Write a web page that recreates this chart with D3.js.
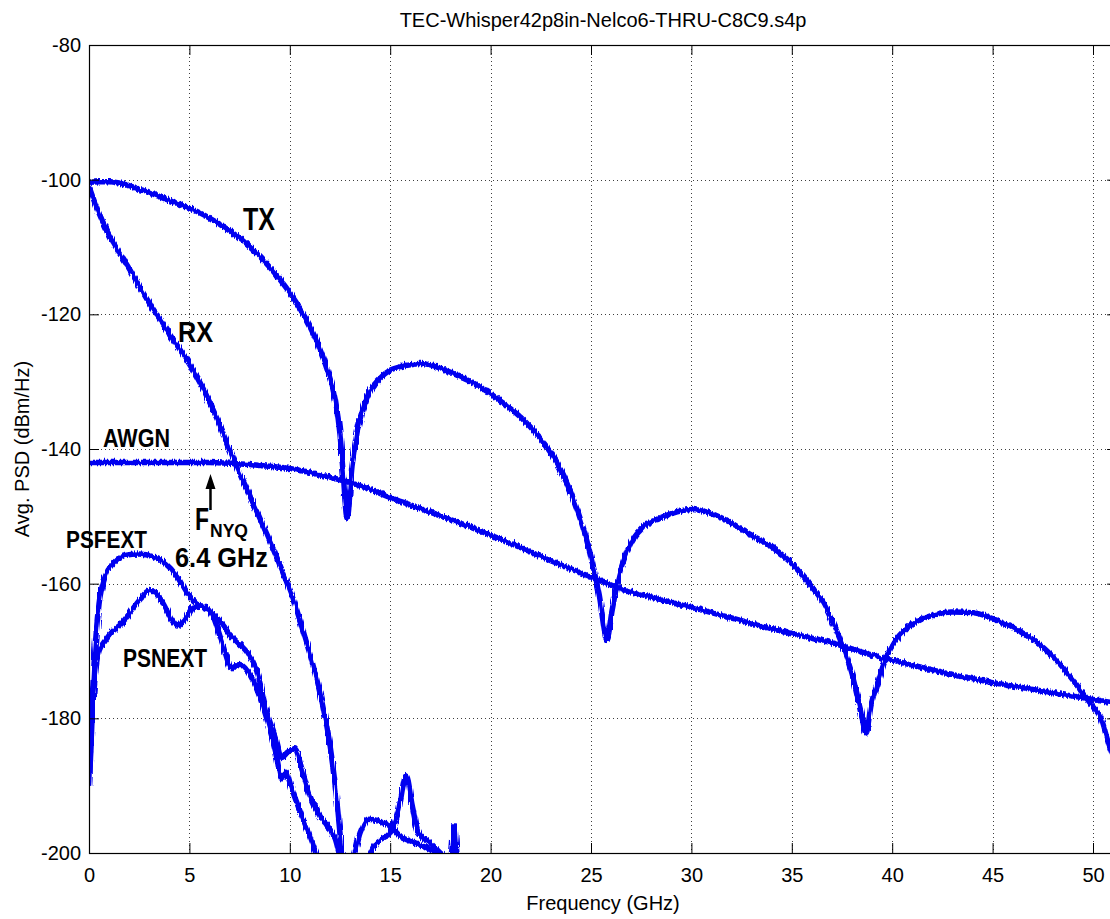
<!DOCTYPE html>
<html>
<head>
<meta charset="utf-8">
<script src="https://cdn.jsdelivr.net/npm/d3@7"></script>
<style>
  html, body { margin: 0; padding: 0; background: #fff; }
  svg text { font-family: 'Liberation Sans', Arial, Helvetica, sans-serif; }
  .note { font-family: 'Liberation Sans Narrow', 'Arial Narrow', 'Liberation Sans', Arial, sans-serif; font-weight: bold; }
</style>
</head>
<body>
<div id="chart"></div>
<script>
// frequencies in GHz, PSD in dBm/Hz
const txFreq = [0, 0.5, 1, 1.5, 2, 2.5, 3, 3.5, 4, 5, 5.5, 6, 6.5, 7, 7.5, 8, 8.5, 9, 9.5, 10, 10.5, 11, 11.4, 11.85, 12.25, 12.5, 12.65, 12.85, 13.1, 13.35, 13.85, 14.5, 15, 15.5, 16, 16.5, 17, 17.5, 18, 18.5, 19, 19.5, 20, 20.5, 21, 21.5, 22, 22.5, 23, 23.5, 24, 24.5, 25, 25.4, 25.8, 26.05, 26.3, 26.8, 27.6, 28.4, 29, 30, 31, 32, 33, 34, 35, 36, 36.5, 37, 37.5, 38, 38.4, 38.7, 38.95, 39.3, 39.7, 40.2, 41, 42, 43, 44, 45, 46, 47, 48, 49, 49.5, 50, 50.4, 50.8, 51.2];
const txPsd = [-100.4, -100.3, -100.3, -100.5, -100.9, -101.4, -101.9, -102.5, -103.1, -104.2, -104.9, -105.7, -106.6, -107.6, -108.7, -110, -111.4, -113, -114.8, -116.8, -119.1, -121.8, -124.4, -128.1, -132.5, -137.8, -143.3, -150.3, -142.5, -137.5, -132.3, -129.5, -128.3, -127.8, -127.5, -127.3, -127.5, -128, -128.6, -129.3, -130, -130.8, -131.8, -132.9, -134, -135.3, -136.8, -138.5, -140.6, -143.2, -146.5, -150.7, -156, -161.5, -168.3, -164, -160, -155.2, -151.6, -150.3, -149.6, -149, -149.6, -151, -152.8, -154.5, -157, -160.5, -162.5, -165.5, -169, -173.5, -178.5, -182.2, -178, -174.5, -171, -168.3, -166, -164.7, -164.2, -164.3, -165.2, -166.5, -168.3, -170.8, -174.3, -176.3, -178.3, -180, -184, -187];

const rxFreq = [0, 0.3, 0.65, 1, 1.45, 2, 2.5, 3, 3.5, 4, 4.5, 5, 5.5, 6, 6.4, 6.85, 7.3, 7.85, 8.35, 8.85, 9.35, 9.85, 10.25, 10.65, 11.1, 11.5, 11.75, 12, 12.3, 12.6, 12.8];
const rxPsd = [-101, -103.5, -106, -108.2, -110.6, -113.2, -115.8, -118.3, -120.6, -122.9, -125.1, -127.4, -130, -133, -135.7, -139, -142.3, -145.9, -149.2, -152.6, -156.1, -159.8, -163, -166.9, -171.5, -176.2, -179.8, -184, -191, -200, -205];

const awgnFreq = [0, 2, 4, 6, 7, 8, 10, 12, 13, 14, 15, 16, 17, 18, 19, 20, 21, 22, 23, 24, 25, 26, 27, 28, 29, 30, 31, 32, 33, 34, 35, 36, 37, 38, 39, 40, 41, 42, 43, 44, 45, 46, 47, 48, 49, 50, 51.2];
const awgnPsd = [-142, -142, -142, -142, -142.1, -142.3, -142.9, -144.2, -145, -146, -147.2, -148.3, -149.4, -150.5, -151.6, -152.8, -154, -155.3, -156.6, -157.8, -159, -160.2, -161.2, -162, -162.8, -163.5, -164.3, -165.1, -165.9, -166.7, -167.4, -168.1, -168.8, -169.7, -170.6, -171.4, -172.1, -172.8, -173.5, -174.1, -174.7, -175.2, -175.7, -176.2, -176.7, -177.2, -177.8];

const fextFreq = [0.02, 0.1, 0.25, 0.5, 0.8, 1.2, 1.8, 2.5, 3.2, 3.8, 4.4, 4.9, 5.4, 6, 6.5, 7, 7.5, 7.9, 8.3, 8.9, 9.3, 9.6, 9.9, 10.25, 10.6, 11, 11.5, 12, 12.25, 12.6, 13.15, 13.5, 13.9, 14.5, 15, 15.5, 16.2, 17, 17.6, 18];
const fextPsd = [-190, -182, -172, -163, -159, -157, -155.8, -155.6, -156, -157, -159, -161.5, -163, -164, -165.5, -167.5, -169, -170.3, -172.5, -179.5, -183, -185.8, -185, -184.5, -187.5, -191.5, -194.5, -196.5, -197.8, -201, -200.5, -197, -195, -195.3, -196, -197.5, -198.5, -199.5, -201, -204];

const nextFreq = [0.02, 0.15, 0.3, 0.5, 0.8, 1.2, 1.6, 2, 2.5, 3, 3.3, 3.7, 4.1, 4.4, 4.8, 5.2, 5.7, 6.2, 6.6, 7.1, 7.5, 7.9, 8.4, 8.9, 9.3, 9.6, 9.8, 10.1, 10.6, 11, 11.3, 11.6, 13.8, 14.3, 15, 15.4, 15.8, 16.1, 16.4, 17, 17.5, 18, 18.2, 18.35, 18.6];
const nextPsd = [-190, -180, -174, -170, -168.5, -167, -166, -164.5, -162.5, -161, -161.3, -163, -165.3, -166.3, -165.2, -163.5, -163.3, -165, -168.5, -172.5, -172, -173, -176, -180.5, -185, -189, -188, -190.5, -194.5, -197.5, -200, -202, -201, -198.5, -197, -194, -188.5, -193, -197, -198.5, -200, -201, -196, -201, -204];

const xTicks = [0, 5, 10, 15, 20, 25, 30, 35, 40, 45, 50];
const yTicks = [-200, -180, -160, -140, -120, -100, -80];

const W = 1110, H = 919;
const plotLeft = 89, plotTop = 45, plotBottom = 853;
const pxPerGHz = 20.08;

const svg = d3.select('#chart').append('svg')
  .attr('width', W).attr('height', H);

const x = d3.scaleLinear().domain([0, 51.2]).range([plotLeft, plotLeft + 51.2 * pxPerGHz]);
const y = d3.scaleLinear().domain([-200, -80]).range([plotBottom, plotTop]);
const plotRight = x(51.2);

const defs = svg.append('defs');
defs.append('clipPath').attr('id', 'plotclip')
  .append('rect')
  .attr('x', plotLeft).attr('y', plotTop)
  .attr('width', plotRight - plotLeft).attr('height', plotBottom - plotTop);

// rough edges like the measured traces
const jag = defs.append('filter').attr('id', 'jag')
  .attr('x', '-2%').attr('y', '-2%').attr('width', '104%').attr('height', '104%');
jag.append('feTurbulence')
  .attr('type', 'fractalNoise').attr('baseFrequency', '0.7 0.06')
  .attr('numOctaves', 1).attr('seed', 4).attr('result', 'n');
jag.append('feDisplacementMap')
  .attr('in', 'SourceGraphic').attr('in2', 'n').attr('scale', 6)
  .attr('xChannelSelector', 'R').attr('yChannelSelector', 'G');

// grid
const grid = svg.append('g').attr('stroke', '#000').attr('stroke-width', 1)
  .attr('stroke-dasharray', '1,3').attr('opacity', 0.75);
grid.selectAll('.vg').data(xTicks.filter(d => d > 0)).enter().append('line')
  .attr('x1', d => Math.round(x(d)) + 0.5).attr('x2', d => Math.round(x(d)) + 0.5)
  .attr('y1', plotTop).attr('y2', plotBottom);
grid.selectAll('.hg').data(yTicks.filter(d => d > -200 && d < -80)).enter().append('line')
  .attr('y1', d => Math.round(y(d)) + 0.5).attr('y2', d => Math.round(y(d)) + 0.5)
  .attr('x1', plotLeft).attr('x2', plotRight);

// curves
const line = d3.line()
  .x(d => x(d[0]))
  .y(d => y(d[1]))
  .curve(d3.curveMonotoneX);

const series = [
  [fextFreq, fextPsd],
  [nextFreq, nextPsd],
  [awgnFreq, awgnPsd],
  [rxFreq, rxPsd],
  [txFreq, txPsd]
];

const curves = svg.append('g').attr('clip-path', 'url(#plotclip)')
  .append('g').attr('filter', 'url(#jag)');
series.forEach(([f, p]) => {
  curves.append('path')
    .datum(f.map((d, i) => [d, p[i]]))
    .attr('d', line)
    .attr('fill', 'none')
    .attr('stroke', '#0000f0')
    .attr('stroke-width', 5.5)
    .attr('stroke-linejoin', 'round');
});

// axes, ticks pointing inward
const fmt = d => String(d);
const xAxisB = d3.axisBottom(x).tickValues(xTicks).tickSizeInner(-10).tickSizeOuter(0).tickPadding(15).tickFormat(fmt);
const xAxisT = d3.axisTop(x).tickValues(xTicks).tickSizeInner(-10).tickSizeOuter(0).tickFormat('');
const yAxisL = d3.axisLeft(y).tickValues(yTicks).tickSizeInner(-10).tickSizeOuter(0).tickPadding(8).tickFormat(fmt);
const yAxisR = d3.axisRight(y).tickValues(yTicks).tickSizeInner(-10).tickSizeOuter(0).tickFormat('');

function styleAxis(g) {
  g.select('.domain').remove();
  g.selectAll('line').attr('stroke', '#000');
  g.selectAll('text').attr('font-size', 20).attr('fill', '#000')
    .attr('font-family', "'Liberation Sans', Arial, sans-serif");
}

svg.append('g').attr('transform', `translate(0,${plotBottom})`).call(xAxisB).call(styleAxis);
svg.append('g').attr('transform', `translate(0,${plotTop})`).call(xAxisT).call(styleAxis);
svg.append('g').attr('transform', `translate(${plotLeft},0)`).call(yAxisL).call(styleAxis);
svg.append('g').attr('transform', `translate(${plotRight},0)`).call(yAxisR).call(styleAxis);

svg.append('rect')
  .attr('x', plotLeft + 0.5).attr('y', plotTop + 0.5)
  .attr('width', plotRight - plotLeft).attr('height', plotBottom - plotTop)
  .attr('fill', 'none').attr('stroke', '#000').attr('stroke-width', 1.2);

// titles
svg.append('text')
  .attr('x', (plotLeft + plotRight) / 2).attr('y', 27)
  .attr('text-anchor', 'middle').attr('font-size', 20)
  .text('TEC-Whisper42p8in-Nelco6-THRU-C8C9.s4p');

svg.append('text')
  .attr('x', (plotLeft + plotRight) / 2).attr('y', 910)
  .attr('text-anchor', 'middle').attr('font-size', 20)
  .text('Frequency (GHz)');

svg.append('text')
  .attr('transform', `translate(29,${(plotTop + plotBottom) / 2}) rotate(-90)`)
  .attr('text-anchor', 'middle').attr('font-size', 20)
  .text('Avg. PSD (dBm/Hz)');

// annotations
const notes = [
  { t: 'TX', x: 243, y: 230, s: 31, w: 32 },
  { t: 'RX', x: 178, y: 342, s: 30, w: 35 },
  { t: 'AWGN', x: 103, y: 447, s: 25, w: 67 },
  { t: 'PSFEXT', x: 66, y: 548, s: 23, w: 81 },
  { t: 'PSNEXT', x: 123, y: 667, s: 25, w: 84 },
  { t: 'F', x: 195, y: 530, s: 31, w: 14 },
  { t: 'NYQ', x: 210, y: 537, s: 18, w: 38 },
  { t: '6.4 GHz', x: 175, y: 567, s: 28, w: 93 }
];
svg.selectAll('.note').data(notes).enter().append('text')
  .attr('class', 'note')
  .attr('x', d => d.x).attr('y', d => d.y)
  .attr('font-size', d => d.s)
  .attr('textLength', d => d.w)
  .attr('lengthAdjust', 'spacingAndGlyphs')
  .attr('fill', '#000')
  .text(d => d.t);

// arrow pointing at the Nyquist frequency
const ax = x(6.05);
svg.append('line')
  .attr('x1', ax).attr('x2', ax).attr('y1', 510).attr('y2', 486)
  .attr('stroke', '#000').attr('stroke-width', 2.5);
svg.append('path')
  .attr('d', `M${ax},474 L${ax - 5},489 L${ax + 5},489 Z`)
  .attr('fill', '#000');
</script>
</body>
</html>
